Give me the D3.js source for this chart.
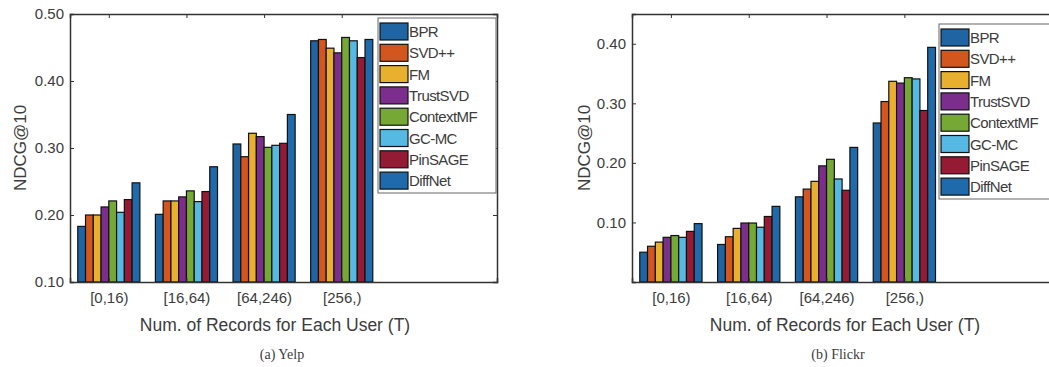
<!DOCTYPE html>
<html>
<head>
<meta charset="utf-8">
<script src="https://cdn.jsdelivr.net/npm/d3@7"></script>
<style>
  body { margin: 0; background: #fff; }
  text { font-family: "Liberation Sans", Arial, sans-serif; fill: #3c3c3c; }
</style>
</head>
<body>
<div id="viz-container"></div>
<script>
// data
let groups = ["[0,16)", "[16,64)", "[64,246)", "[256,)"];
let methods = ["BPR", "SVD++", "FM", "TrustSVD", "ContextMF", "GC-MC", "PinSAGE", "DiffNet"];
let colors = ["#1f64a3", "#d4561f", "#e9b02f", "#7c2e8c", "#76a836", "#56b9e4", "#951a33", "#1f6aab"];

// yelp, one row per group, columns follow methods
let yelpValues = [
  [0.183, 0.200, 0.200, 0.212, 0.221, 0.204, 0.223, 0.248],
  [0.201, 0.221, 0.221, 0.227, 0.236, 0.220, 0.235, 0.272],
  [0.306, 0.287, 0.322, 0.317, 0.301, 0.304, 0.307, 0.350],
  [0.460, 0.462, 0.449, 0.442, 0.465, 0.460, 0.435, 0.462]
];
let yelpTicks = [0.10, 0.20, 0.30, 0.40, 0.50];

let flickrValues = [
  [0.050, 0.060, 0.067, 0.075, 0.078, 0.075, 0.085, 0.098],
  [0.063, 0.076, 0.090, 0.099, 0.099, 0.092, 0.110, 0.127],
  [0.143, 0.156, 0.169, 0.195, 0.206, 0.173, 0.154, 0.226],
  [0.267, 0.303, 0.337, 0.334, 0.343, 0.341, 0.288, 0.394]
];
let flickrTicks = [0.10, 0.20, 0.30, 0.40];

let viz = d3.select("#viz-container")
  .append("svg")
    .attr("width", 1049)
    .attr("height", 367);

function drawPanel(p) {
  let g = viz.append("g");

  let x = d3.scaleLinear().domain([0.5, 6]).range([p.left, p.right]);
  let y = d3.scaleLinear().domain(p.yDomain).range([p.bottom, p.top]);
  let unit = x(2) - x(1);
  let inner = d3.scaleBand().domain(methods).range([-0.4 * unit, 0.4 * unit]);

  // bars
  let grp = g.selectAll(".grp")
    .data(p.values)
    .enter().append("g")
      .attr("transform", (d, i) => "translate(" + x(i + 1) + ",0)");

  grp.selectAll("rect")
    .data(d => d.map((v, j) => ({ m: methods[j], v: v, c: colors[j] })))
    .enter().append("rect")
      .attr("x", d => inner(d.m))
      .attr("width", inner.bandwidth())
      .attr("y", d => y(d.v))
      .attr("height", d => p.bottom - y(d.v))
      .attr("fill", d => d.c)
      .attr("stroke", "#111")
      .attr("stroke-width", 1.2);

  // axes, matlab style ticks pointing in
  let tickVals = groups.map((d, i) => i + 1);
  g.append("g")
    .attr("transform", "translate(0," + p.bottom + ")")
    .call(d3.axisBottom(x).tickValues(tickVals).tickFormat((d) => groups[d - 1]).tickSize(-4).tickPadding(10))
    .call(a => a.selectAll("text").style("font-size", "15px"));
  g.append("g")
    .attr("transform", "translate(0," + p.top + ")")
    .call(d3.axisTop(x).tickValues(tickVals).tickFormat("").tickSize(-4));
  g.append("g")
    .attr("transform", "translate(" + p.left + ",0)")
    .call(d3.axisLeft(y).tickValues(p.ticks).tickFormat(d3.format(".2f")).tickSize(-4).tickPadding(6))
    .call(a => a.selectAll("text").style("font-size", "15px"));
  g.append("g")
    .attr("transform", "translate(" + p.right + ",0)")
    .call(d3.axisRight(y).tickValues(p.ticks).tickFormat("").tickSize(-4));

  g.selectAll(".domain").attr("stroke", "#333").attr("stroke-width", 1.5);
  g.selectAll(".tick line").attr("stroke", "#333");

  // legend
  let lg = g.append("g").attr("transform", "translate(" + p.legendX + "," + p.legendY + ")");
  lg.append("rect")
    .attr("width", 118)
    .attr("height", 175)
    .attr("fill", "#fff")
    .attr("stroke", "#666");
  let row = lg.selectAll(".row")
    .data(methods)
    .enter().append("g")
      .attr("transform", (d, i) => "translate(2," + (5 + i * 21.3) + ")");
  row.append("rect")
    .attr("width", 28)
    .attr("height", 17)
    .attr("fill", (d, i) => colors[i])
    .attr("stroke", "#111")
    .attr("stroke-width", 1.2);
  row.append("text")
    .attr("x", 29)
    .attr("y", 14)
    .style("font-size", "15px")
    .style("letter-spacing", "-0.6px")
    .text(d => d);

  // titles
  g.append("text")
    .attr("transform", "translate(" + p.ylabX + "," + ((p.top + p.bottom) / 2) + ") rotate(-90)")
    .attr("text-anchor", "middle")
    .style("font-size", "17px")
    .text("NDCG@10");
  g.append("text")
    .attr("x", p.titleX)
    .attr("y", 331)
    .attr("text-anchor", "middle")
    .style("font-size", "17.5px")
    .text("Num. of Records for Each User (T)");
  g.append("text")
    .attr("x", p.captionX)
    .attr("y", 359)
    .attr("text-anchor", "middle")
    .style("font-family", "'Liberation Serif', 'DejaVu Serif', serif")
    .style("font-size", "14px")
    .text(p.caption);
}

drawPanel({
  values: yelpValues, ticks: yelpTicks, yDomain: [0.10, 0.50],
  left: 70, right: 497, top: 14, bottom: 282,
  legendX: 378, legendY: 18, ylabX: 26, titleX: 275, captionX: 282, caption: "(a) Yelp"
});

drawPanel({
  values: flickrValues, ticks: flickrTicks, yDomain: [0, 0.45],
  left: 632, right: 1060, top: 14, bottom: 282,
  legendX: 939, legendY: 24, ylabX: 590, titleX: 845, captionX: 838, caption: "(b) Flickr"
});
</script>
</body>
</html>
